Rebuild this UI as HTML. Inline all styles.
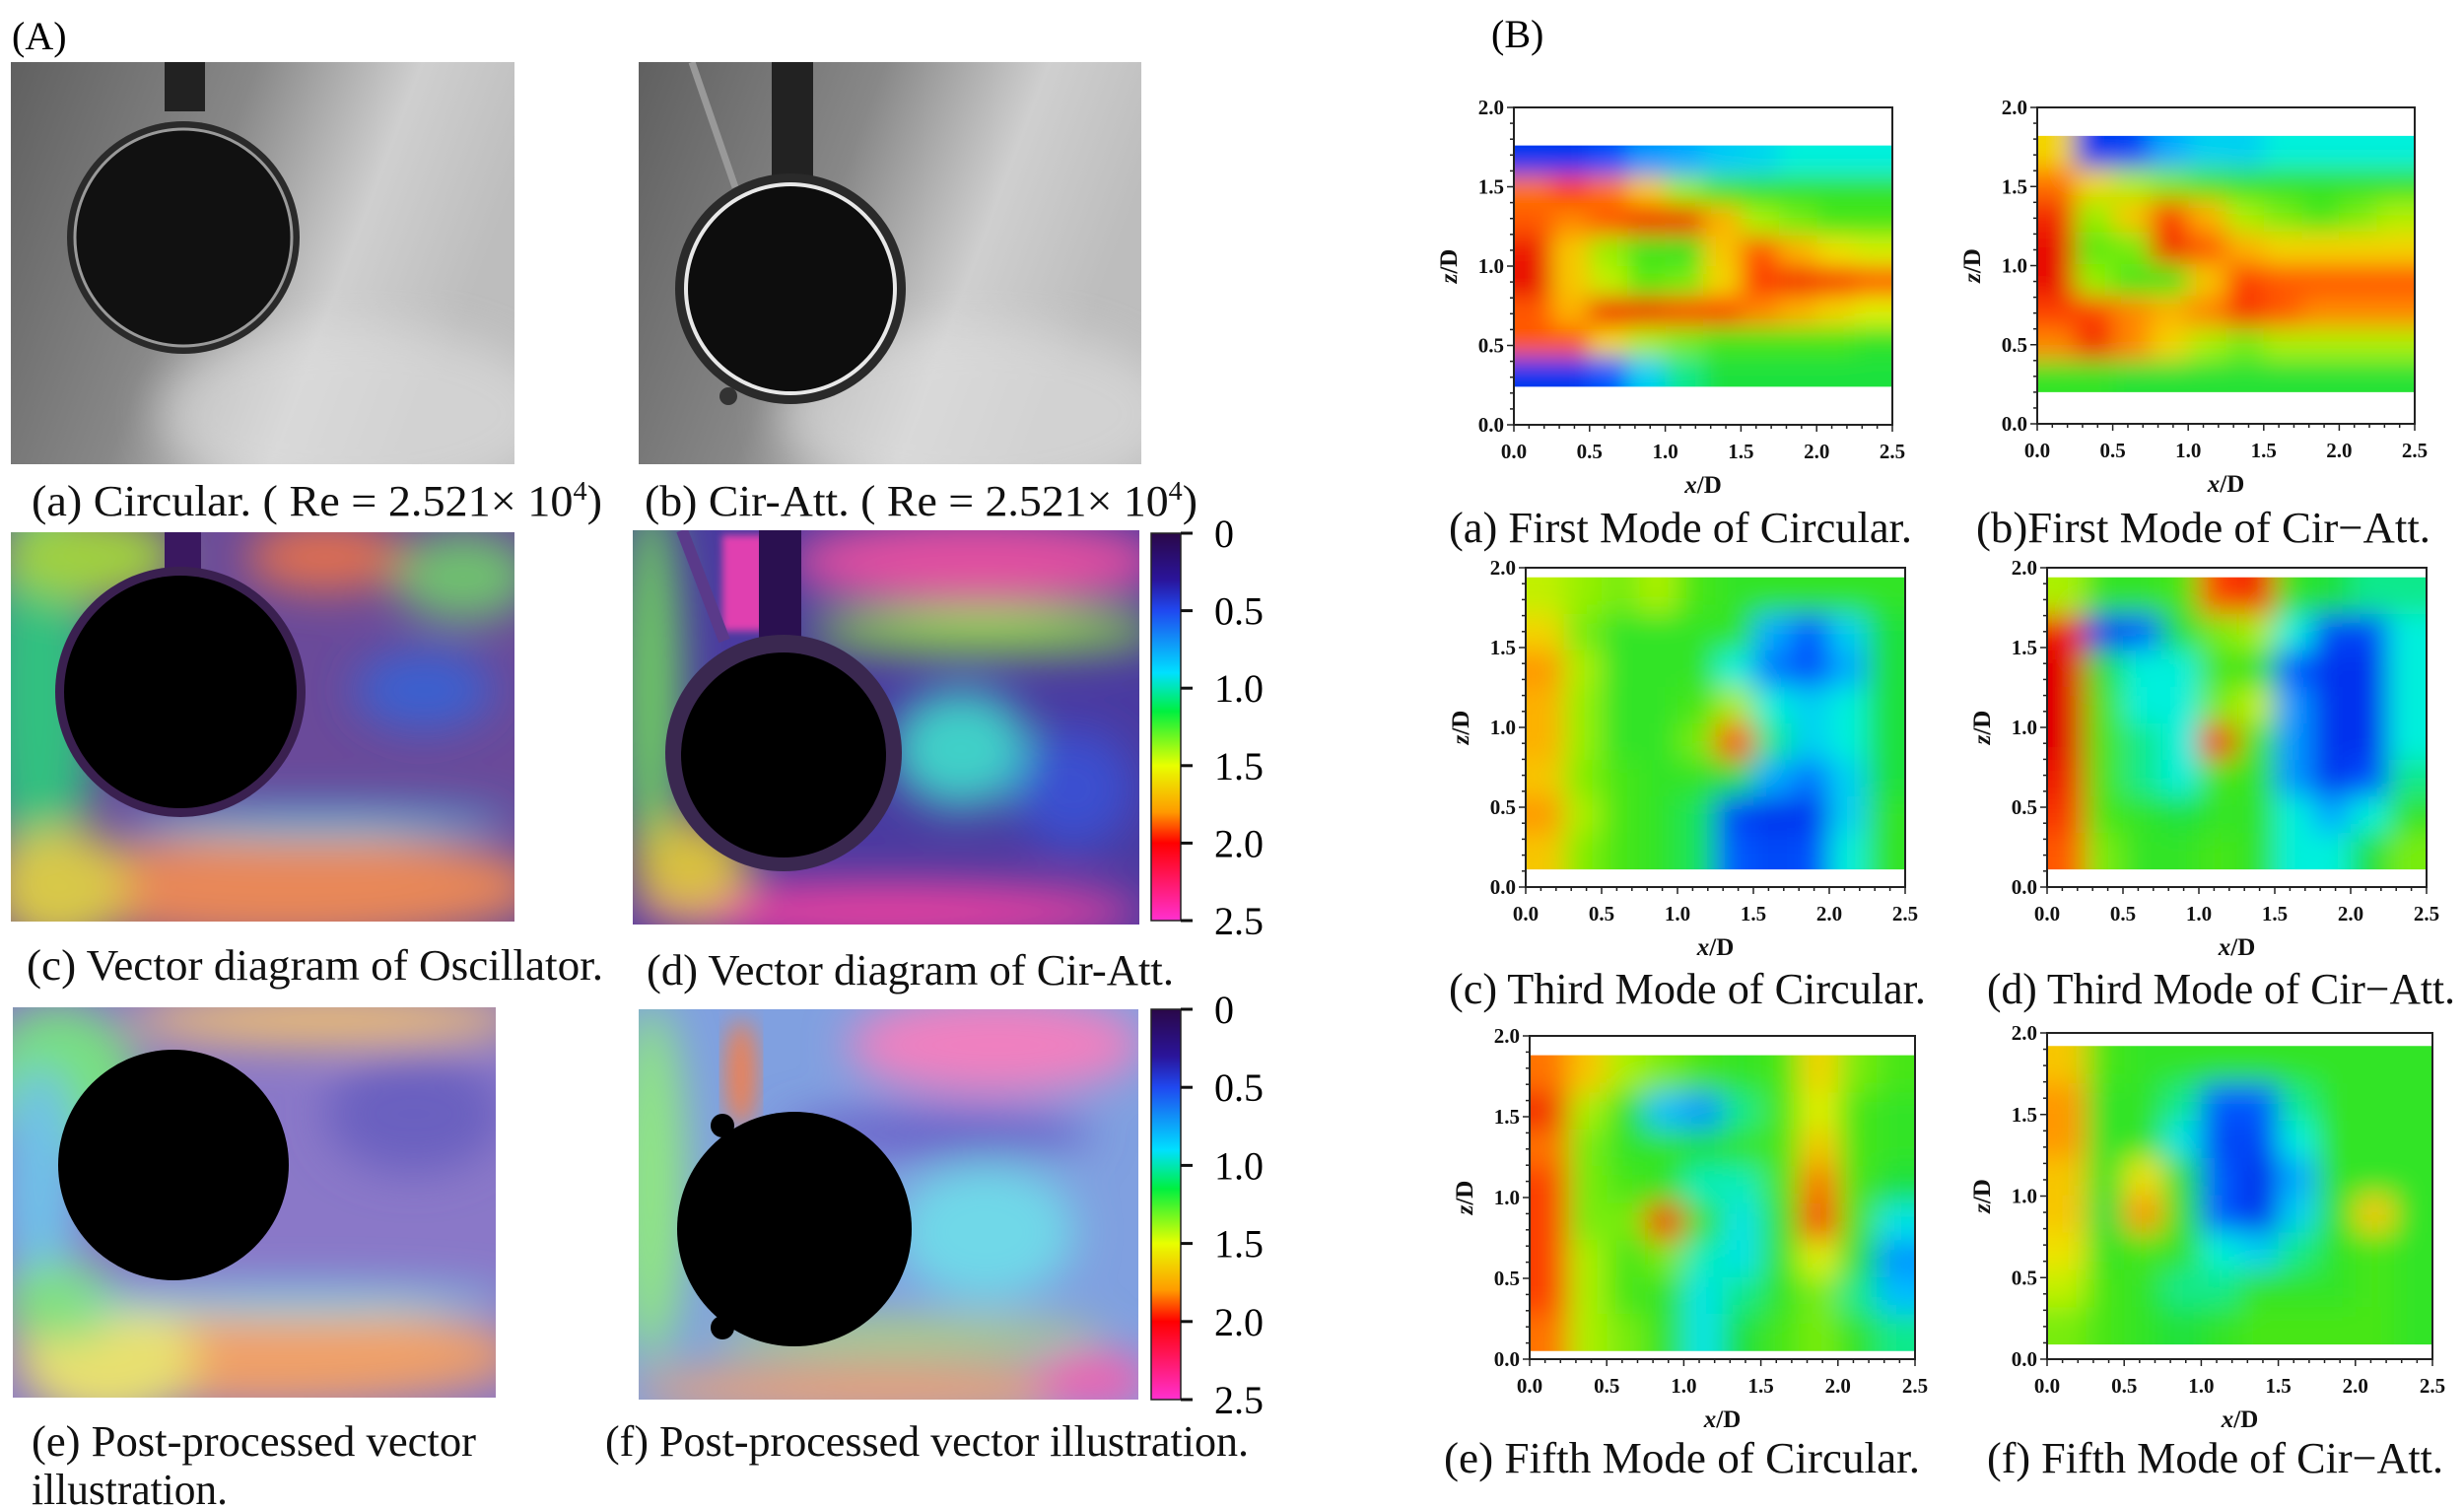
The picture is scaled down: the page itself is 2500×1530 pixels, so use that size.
<!DOCTYPE html>
<html><head><meta charset="utf-8"><title>Flow visualization and mode figure</title>
<style>
html,body{margin:0;padding:0;background:#fff;}
svg{display:block;}
text{font-family:"Liberation Serif",serif;}
.cap{font-size:44px;fill:#111;}
.tick{font-size:21px;font-weight:bold;fill:#111;}
.axl{font-size:25px;font-weight:bold;fill:#111;}
</style></head><body>
<svg id="fig" xmlns="http://www.w3.org/2000/svg" width="2500" height="1530" viewBox="0 0 2500 1530">
<defs>
  <filter id="blurBig" x="-20%" y="-20%" width="140%" height="140%"><feGaussianBlur stdDeviation="22"/></filter>
  <filter id="blurMed" x="-20%" y="-20%" width="140%" height="140%"><feGaussianBlur stdDeviation="12"/></filter>
  <filter id="blurSm" x="-20%" y="-20%" width="140%" height="140%"><feGaussianBlur stdDeviation="4"/></filter>
  <linearGradient id="photoBgA" x1="0" y1="0" x2="1" y2="0.3">
    <stop offset="0" stop-color="#606060"/><stop offset="0.45" stop-color="#888"/><stop offset="0.75" stop-color="#cfcfcf"/><stop offset="1" stop-color="#bdbdbd"/>
  </linearGradient>
  <linearGradient id="cbGrad" x1="0" y1="0" x2="0" y2="1">
    <stop offset="0" stop-color="#2a0848"/><stop offset="0.12" stop-color="#2a149a"/><stop offset="0.2" stop-color="#2048f0"/>
    <stop offset="0.36" stop-color="#00e0ff"/><stop offset="0.46" stop-color="#00f040"/><stop offset="0.6" stop-color="#e8ff00"/>
    <stop offset="0.72" stop-color="#ff9a00"/><stop offset="0.8" stop-color="#ff0000"/><stop offset="1" stop-color="#ff30d0"/>
  </linearGradient>
  <clipPath id="clipPA"><rect x="11" y="63" width="511" height="408"/></clipPath>
  <clipPath id="clipPB"><rect x="648" y="63" width="510" height="408"/></clipPath>
  <clipPath id="clipPC"><rect x="11" y="540" width="511" height="395"/></clipPath>
  <clipPath id="clipPD"><rect x="642" y="538" width="514" height="400"/></clipPath>
  <clipPath id="clipPE"><rect x="13" y="1022" width="490" height="396"/></clipPath>
  <clipPath id="clipPF"><rect x="648" y="1024" width="507" height="396"/></clipPath>
</defs>

<text x="12" y="50" style="font-size:40px">(A)</text>
<text x="1513" y="48" style="font-size:40px">(B)</text>

<g clip-path="url(#clipPA)">
  <rect x="11" y="63" width="511" height="408" fill="url(#photoBgA)"/>
  <ellipse cx="360" cy="420" rx="200" ry="90" fill="#e0e0e0" opacity="0.6" filter="url(#blurBig)"/>
  <rect x="167" y="63" width="41" height="50" fill="#222"/>
  <circle cx="186" cy="241" r="118" fill="#2a2a2a"/>
  <circle cx="186" cy="241" r="110" fill="#111" stroke="#9a9a9a" stroke-width="3"/>
</g>
<g clip-path="url(#clipPB)">
  <rect x="648" y="63" width="510" height="408" fill="url(#photoBgA)"/>
  <ellipse cx="990" cy="420" rx="200" ry="90" fill="#e0e0e0" opacity="0.6" filter="url(#blurBig)"/>
  <rect x="783" y="63" width="42" height="118" fill="#222"/>
  <line x1="702" y1="63" x2="746" y2="190" stroke="#999" stroke-width="7"/>
  <circle cx="802" cy="293" r="117" fill="#2a2a2a"/>
  <circle cx="802" cy="293" r="106" fill="#0d0d0d" stroke="#e8e8e8" stroke-width="4"/>
  <circle cx="739" cy="402" r="9" fill="#333"/>
</g>
<text class="cap" x="32" y="523" textLength="579" lengthAdjust="spacingAndGlyphs">(a) Circular. ( Re = 2.521× 10<tspan dy="-16" style="font-size:27px">4</tspan><tspan dy="16">)</tspan></text>
<text class="cap" x="654" y="523" textLength="561" lengthAdjust="spacingAndGlyphs">(b) Cir-Att. ( Re = 2.521× 10<tspan dy="-16" style="font-size:27px">4</tspan><tspan dy="16">)</tspan></text>

<g clip-path="url(#clipPC)">
  <rect x="11" y="540" width="511" height="395" fill="#6a4a9a"/>
  <g filter="url(#blurBig)">
    <ellipse cx="40" cy="700" rx="55" ry="220" fill="#30c080"/>
    <ellipse cx="90" cy="565" rx="90" ry="45" fill="#a0d040"/>
    <ellipse cx="330" cy="565" rx="80" ry="35" fill="#e07050"/>
    <ellipse cx="470" cy="585" rx="70" ry="45" fill="#70c070"/>
    <ellipse cx="430" cy="700" rx="70" ry="40" fill="#3a60d0"/>
    <ellipse cx="290" cy="900" rx="260" ry="55" fill="#e88858"/>
    <ellipse cx="60" cy="900" rx="70" ry="60" fill="#d8c848"/>
    <ellipse cx="320" cy="835" rx="200" ry="14" fill="#40c0e0"/>
  </g>
  <rect x="167" y="540" width="37" height="50" fill="#3a1860"/>
  <circle cx="183" cy="702" r="127" fill="#3a2050"/>
  <circle cx="183" cy="702" r="118" fill="#000"/>
</g>
<g clip-path="url(#clipPD)">
  <rect x="642" y="538" width="514" height="400" fill="#4a3aa0"/>
  <g filter="url(#blurBig)">
    <ellipse cx="990" cy="570" rx="190" ry="45" fill="#e050a0"/>
    <ellipse cx="1000" cy="640" rx="180" ry="22" fill="#90e040"/>
    <ellipse cx="660" cy="700" rx="30" ry="200" fill="#70d060"/>
    <ellipse cx="975" cy="760" rx="70" ry="60" fill="#40d0c8"/>
    <ellipse cx="1090" cy="800" rx="60" ry="60" fill="#3a50d0"/>
    <ellipse cx="900" cy="925" rx="260" ry="30" fill="#e840a0"/>
    <ellipse cx="700" cy="880" rx="60" ry="50" fill="#d8c040"/>
  </g>
  <rect x="733" y="543" width="44" height="97" fill="#e040b0" filter="url(#blurSm)"/>
  <line x1="692" y1="538" x2="735" y2="650" stroke="#5a3a8a" stroke-width="12"/>
  <rect x="770" y="538" width="43" height="112" fill="#2a1050"/>
  <circle cx="795" cy="764" r="120" fill="#3a2850"/>
  <circle cx="795" cy="766" r="104" fill="#000"/>
</g>
<text class="cap" x="27" y="994" textLength="585" lengthAdjust="spacingAndGlyphs">(c)  Vector diagram of Oscillator.</text>
<text class="cap" x="656" y="999" textLength="535" lengthAdjust="spacingAndGlyphs">(d) Vector diagram of Cir-Att.</text>

<g clip-path="url(#clipPE)">
  <rect x="13" y="1022" width="490" height="396" fill="#8a78c8"/>
  <g filter="url(#blurBig)">
    <ellipse cx="60" cy="1100" rx="80" ry="80" fill="#78e080"/>
    <ellipse cx="40" cy="1200" rx="40" ry="120" fill="#70c0e8"/>
    <ellipse cx="330" cy="1035" rx="200" ry="25" fill="#f0c070"/>
    <ellipse cx="270" cy="1375" rx="260" ry="50" fill="#f0a068"/>
    <ellipse cx="110" cy="1380" rx="90" ry="60" fill="#e8e070"/>
    <ellipse cx="60" cy="1320" rx="60" ry="40" fill="#80e080"/>
    <ellipse cx="300" cy="1320" rx="220" ry="14" fill="#70d8e8"/>
    <ellipse cx="420" cy="1130" rx="90" ry="60" fill="#6a60c0"/>
  </g>
  <circle cx="176" cy="1182" r="117" fill="#000"/>
</g>
<g clip-path="url(#clipPF)">
  <rect x="648" y="1024" width="507" height="396" fill="#80a0e0"/>
  <g filter="url(#blurBig)">
    <ellipse cx="1010" cy="1060" rx="150" ry="50" fill="#f080c0"/>
    <ellipse cx="660" cy="1200" rx="35" ry="180" fill="#90e880"/>
    <ellipse cx="950" cy="1150" rx="160" ry="25" fill="#6a60c8"/>
    <ellipse cx="1000" cy="1250" rx="90" ry="70" fill="#70d8e8"/>
    <ellipse cx="900" cy="1410" rx="260" ry="25" fill="#f0a070"/>
    <ellipse cx="1110" cy="1400" rx="60" ry="30" fill="#f060b0"/>
    <ellipse cx="920" cy="1355" rx="200" ry="14" fill="#c0e060"/>
  </g>
  <ellipse cx="752" cy="1090" rx="16" ry="55" fill="#f08050" filter="url(#blurMed)"/>
  <circle cx="806" cy="1247" r="119" fill="#000"/>
  <circle cx="733" cy="1142" r="12" fill="#000"/>
  <circle cx="733" cy="1347" r="12" fill="#000"/>
</g>
<text class="cap" x="32" y="1477" textLength="451" lengthAdjust="spacingAndGlyphs">(e) Post-processed vector</text>
<text class="cap" x="32" y="1526" textLength="199" lengthAdjust="spacingAndGlyphs">illustration.</text>
<text class="cap" x="614" y="1477" textLength="653" lengthAdjust="spacingAndGlyphs">(f) Post-processed vector illustration.</text>

<g id="cb1"></g>
<g id="cb2"></g>

<g id="charts"></g>

<text class="cap" x="1470" y="550" textLength="470" lengthAdjust="spacingAndGlyphs">(a) First Mode of Circular.</text>
<text class="cap" x="2005" y="550" textLength="461" lengthAdjust="spacingAndGlyphs">(b)First Mode of Cir−Att.</text>
<text class="cap" x="1470" y="1018" textLength="484" lengthAdjust="spacingAndGlyphs">(c) Third Mode of Circular.</text>
<text class="cap" x="2016" y="1018" textLength="475" lengthAdjust="spacingAndGlyphs">(d) Third Mode of Cir−Att.</text>
<text class="cap" x="1465" y="1494" textLength="483" lengthAdjust="spacingAndGlyphs">(e)  Fifth Mode of Circular.</text>
<text class="cap" x="2016" y="1494" textLength="463" lengthAdjust="spacingAndGlyphs">(f) Fifth Mode of Cir−Att.</text>
</svg>

<script>
const NS = "http://www.w3.org/2000/svg";
const cbTicks = [0, 0.5, 1.0, 1.5, 2.0, 2.5];
const cbTickLabels = ["0", "0.5", "1.0", "1.5", "2.0", "2.5"];

const mode1Circular = [
 [0.05,0.05,0.1,0.18,0.2,0.24,0.26,0.3,0.3,0.3],
 [0.82,0.88,0.82,0.72,0.58,0.5,0.45,0.45,0.45,0.45],
 [0.85,0.8,0.85,0.92,0.92,0.75,0.6,0.55,0.5,0.5],
 [0.95,0.72,0.58,0.48,0.46,0.72,0.85,0.75,0.68,0.64],
 [0.97,0.72,0.62,0.52,0.55,0.7,0.88,0.92,0.9,0.85],
 [0.85,0.75,0.92,0.92,0.88,0.88,0.8,0.75,0.7,0.65],
 [0.85,0.85,0.7,0.6,0.55,0.5,0.5,0.5,0.5,0.45],
 [0.05,0.05,0.12,0.25,0.35,0.4,0.4,0.4,0.4,0.4]];
const mode1CirAtt = [
 [0.7,0.05,0.08,0.2,0.25,0.25,0.3,0.3,0.3,0.3],
 [0.82,0.7,0.6,0.55,0.5,0.45,0.45,0.45,0.45,0.45],
 [0.92,0.58,0.72,0.88,0.75,0.6,0.55,0.5,0.55,0.6],
 [0.97,0.52,0.55,0.92,0.85,0.75,0.7,0.7,0.7,0.7],
 [0.97,0.58,0.5,0.5,0.72,0.88,0.85,0.85,0.85,0.85],
 [0.88,0.88,0.8,0.75,0.8,0.9,0.85,0.8,0.8,0.8],
 [0.8,0.92,0.8,0.7,0.6,0.55,0.6,0.6,0.6,0.6],
 [0.45,0.45,0.42,0.42,0.42,0.42,0.42,0.42,0.42,0.42]];
const mode3Circular = [
 [0.62,0.58,0.55,0.6,0.5,0.45,0.45,0.45,0.45,0.45],
 [0.7,0.55,0.45,0.45,0.45,0.45,0.2,0.12,0.25,0.4],
 [0.78,0.6,0.45,0.45,0.45,0.3,0.15,0.1,0.2,0.4],
 [0.75,0.58,0.45,0.45,0.5,0.6,0.3,0.25,0.3,0.4],
 [0.75,0.58,0.45,0.45,0.55,0.88,0.35,0.25,0.3,0.4],
 [0.72,0.56,0.5,0.45,0.45,0.4,0.2,0.15,0.25,0.4],
 [0.78,0.6,0.5,0.45,0.38,0.08,0.04,0.05,0.25,0.45],
 [0.72,0.56,0.5,0.45,0.38,0.12,0.08,0.1,0.3,0.45]];
const mode3CirAtt = [
 [0.6,0.45,0.45,0.5,0.88,0.92,0.45,0.4,0.35,0.35],
 [0.95,0.05,0.12,0.4,0.55,0.6,0.3,0.08,0.08,0.3],
 [1.0,0.4,0.3,0.3,0.5,0.45,0.12,0.04,0.04,0.3],
 [1.0,0.5,0.3,0.3,0.55,0.62,0.18,0.04,0.04,0.3],
 [1.0,0.5,0.35,0.3,0.92,0.5,0.18,0.04,0.04,0.3],
 [0.95,0.5,0.35,0.3,0.5,0.45,0.18,0.05,0.1,0.35],
 [0.9,0.5,0.45,0.4,0.45,0.45,0.3,0.2,0.3,0.45],
 [0.85,0.55,0.45,0.45,0.5,0.45,0.3,0.3,0.4,0.55]];
const mode5Circular = [
 [0.82,0.72,0.6,0.55,0.5,0.45,0.5,0.7,0.55,0.5],
 [0.92,0.6,0.45,0.22,0.18,0.35,0.5,0.65,0.5,0.45],
 [0.82,0.55,0.45,0.45,0.4,0.45,0.5,0.72,0.5,0.45],
 [0.88,0.55,0.5,0.45,0.32,0.32,0.5,0.82,0.5,0.4],
 [0.88,0.55,0.55,0.92,0.45,0.28,0.45,0.88,0.5,0.28],
 [0.88,0.6,0.5,0.55,0.32,0.28,0.45,0.65,0.4,0.18],
 [0.88,0.6,0.5,0.45,0.28,0.35,0.45,0.55,0.35,0.22],
 [0.82,0.6,0.55,0.45,0.28,0.4,0.5,0.55,0.45,0.35]];
const mode5CirAtt = [
 [0.72,0.5,0.45,0.45,0.45,0.45,0.45,0.45,0.45,0.45],
 [0.78,0.45,0.45,0.35,0.12,0.12,0.35,0.45,0.45,0.45],
 [0.78,0.45,0.45,0.28,0.08,0.08,0.3,0.45,0.45,0.45],
 [0.72,0.45,0.68,0.4,0.12,0.03,0.2,0.45,0.45,0.45],
 [0.72,0.4,0.78,0.45,0.12,0.03,0.25,0.45,0.72,0.45],
 [0.68,0.45,0.5,0.45,0.3,0.25,0.35,0.45,0.5,0.45],
 [0.62,0.5,0.45,0.35,0.35,0.45,0.45,0.45,0.5,0.45],
 [0.55,0.5,0.45,0.4,0.45,0.5,0.5,0.5,0.5,0.45]];
const zExtentTop = [1.76, 1.82, 1.94, 1.94, 1.88, 1.92];
const zExtentBottom = [0.24, 0.20, 0.11, 0.11, 0.05, 0.09];
const xTickLabels = ["0.0","0.5","1.0","1.5","2.0","2.5"];
const zTickLabels = ["0.0","0.5","1.0","1.5","2.0"];

const chartValues = [mode1Circular, mode1CirAtt, mode3Circular, mode3CirAtt, mode5Circular, mode5CirAtt];
const chartNames = ["first-mode-circular","first-mode-cir-att","third-mode-circular","third-mode-cir-att","fifth-mode-circular","fifth-mode-cir-att"];
const chartBoxes = [[1536,109,1920,431],[2067,109,2450,430],[1548,576,1933,900],[2077,576,2462,900],[1552,1051,1943,1379],[2077,1048,2468,1379]];

function mk(tag, attrs, parent){const e=document.createElementNS(NS,tag);for(const k in attrs)e.setAttribute(k,attrs[k]);if(parent)parent.appendChild(e);return e;}

const jetStops=[[0,[0,30,230]],[0.12,[0,90,255]],[0.22,[0,190,255]],[0.3,[0,240,220]],[0.4,[30,225,60]],[0.5,[70,230,20]],[0.58,[150,240,0]],[0.66,[235,240,0]],[0.76,[255,170,0]],[0.87,[255,70,0]],[1,[225,0,0]]];
function jet(v){v=Math.max(0,Math.min(1,v));for(let i=1;i<jetStops.length;i++){if(v<=jetStops[i][0]){const a=jetStops[i-1],b=jetStops[i];const t=(v-a[0])/(b[0]-a[0]);const c=a[1].map((x,k)=>Math.round(x+(b[1][k]-x)*t));return `rgb(${c[0]},${c[1]},${c[2]})`;}}return "rgb(225,0,0)";}

const svg=document.getElementById("fig");
const defs=svg.querySelector("defs");
const charts=document.getElementById("charts");

chartValues.forEach((vals,ci)=>{
  const [bx1,by1,bx2,by2]=chartBoxes[ci];
  const xs=x=>bx1+x/2.5*(bx2-bx1);
  const zs=z=>by2-z/2*(by2-by1);
  const g=mk("g",{},charts);
  
  
  const dy1=zs(zExtentTop[ci]), dy2=zs(zExtentBottom[ci]);
  const clip=mk("clipPath",{id:"hc"+ci},defs);
  mk("rect",{x:bx1+1,y:dy1,width:bx2-bx1-2,height:dy2-dy1},clip);
  const filt=mk("filter",{id:"hf"+ci,x:bx1-60,y:dy1-60,width:bx2-bx1+120,height:dy2-dy1+120,filterUnits:"userSpaceOnUse"},defs);
  const rows=vals.length, cols=vals[0].length;
  const ch=(dy2-dy1)/rows, cw=(bx2-bx1)/cols;
  mk("feGaussianBlur",{stdDeviation:(Math.min(ch,cw)*0.38).toFixed(1)},filt);
  const hg=mk("g",{"clip-path":`url(#hc${ci})`},g);
  const inner=mk("g",{filter:`url(#hf${ci})`},hg);
  vals.forEach((row,ri)=>{row.forEach((v,cj)=>{
    let x=xs(cj*2.5/cols), y=dy1+ri*ch, w=cw, h=ch;
    if(cj===0){x-=cw;w+=cw;} if(cj===cols-1){w+=cw;}
    if(ri===0){y-=ch;h+=ch;} if(ri===rows-1){h+=ch;}
    const r=mk("rect",{x:x.toFixed(1),y:y.toFixed(1),width:(w+0.5).toFixed(1),height:(h+0.5).toFixed(1),fill:jet(v)},inner);
    
    
  });});
  const box=mk("rect",{x:bx1,y:by1,width:bx2-bx1,height:by2-by1,fill:"none",stroke:"#222","stroke-width":2},g);
  
  
  for(let i=0;i<=25;i++){const x=xs(i/10);const major=i%5===0;mk("line",{x1:x,y1:by2,x2:x,y2:by2+(major?7:4),stroke:"#222","stroke-width":1.5},g);}
  xTickLabels.forEach((lab)=>{const t=mk("text",{x:xs(parseFloat(lab)),y:by2+34,"text-anchor":"middle",class:"tick"},g);t.textContent=lab;
    
    });
  for(let i=0;i<=20;i++){const y=zs(i/10);const major=i%5===0;mk("line",{x1:bx1,y1:y,x2:bx1-(major?7:4),y2:y,stroke:"#222","stroke-width":1.5},g);}
  zTickLabels.forEach((lab)=>{const t=mk("text",{x:bx1-10,y:zs(parseFloat(lab))+7,"text-anchor":"end",class:"tick"},g);t.textContent=lab;
    
    });
  const xl=mk("text",{x:(bx1+bx2)/2,y:by2+69,"text-anchor":"middle",class:"axl"},g);
  xl.innerHTML='<tspan font-style="italic">x</tspan>/D';
  
  
  const cy=(by1+by2)/2, cx=bx1-58;
  const zl=mk("text",{x:cx,y:cy,"text-anchor":"middle",class:"axl",transform:`rotate(-90 ${cx} ${cy})`},g);
  zl.innerHTML='<tspan font-style="italic">z</tspan>/D';
  
  
});

function colorbar(id,x,y1,y2){
  const g=document.getElementById(id);
  mk("rect",{x:x,y:y1,width:30,height:y2-y1,fill:"url(#cbGrad)",stroke:"#222","stroke-width":1.5},g);
  cbTicks.forEach((v,i)=>{const y=y1+v/2.5*(y2-y1);
    mk("line",{x1:x+30,y1:y,x2:x+42,y2:y,stroke:"#111","stroke-width":3},g);
    const t=mk("text",{x:x+64,y:y+14,style:"font-size:40px","text-anchor":"start"},g);t.textContent=cbTickLabels[i];
    
    
  });
}
colorbar("cb1",1168,541,934);
colorbar("cb2",1168,1024,1420);
</script>
</body></html>
